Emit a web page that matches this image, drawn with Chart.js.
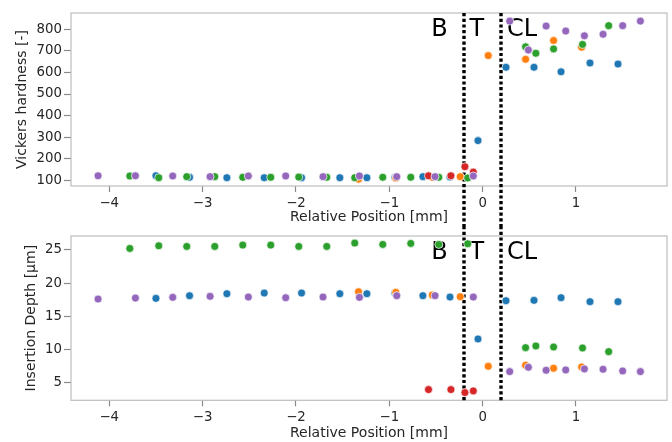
<!DOCTYPE html>
<html>
<head>
<meta charset="utf-8">
<script src="https://cdn.jsdelivr.net/npm/chart.js@4"></script>
<style>
html,body{margin:0;padding:0;background:#fff;}
#wrap{position:relative;width:672px;height:442px;overflow:hidden;}
#c1{position:absolute;left:0;top:0;}
#c2{position:absolute;left:0;top:226px;}
</style>
</head>
<body>
<div id="wrap">
<canvas id="c1" width="672" height="226"></canvas>
<canvas id="c2" width="672" height="216"></canvas>
</div>
<script>
// ---- data ----
const xTicks = [-4, -3, -2, -1, 0, 1];
const hardnessTicks = [100, 200, 300, 400, 500, 600, 700, 800];
const depthTicks = [5, 10, 15, 20, 25];
const regionLines = [-0.2, 0.2];
const regionLabels = ['B', 'T', 'CL'];
const regionLabelX = [-0.55, -0.14, 0.26];

const blueX = [-3.50,-3.14,-2.74,-2.34,-1.94,-1.53,-1.24,-0.94,-0.64,-0.35,-0.05,0.25,0.55,0.84,1.15,1.45];
const blueHardness = [121,114,112,112,112,112,112,113,117,115,284,624,624,603,644,639];
const blueDepth = [17.7,18.1,18.4,18.5,18.5,18.4,18.4,18.5,18.1,17.9,11.6,17.35,17.4,17.8,17.2,17.2];

const orangeX = [-1.33,-0.93,-0.54,-0.24,0.06,0.46,0.76,1.06];
const orangeHardness = [105,111,114,117,678,661,748,717];
const orangeDepth = [18.7,18.6,18.2,17.95,7.5,7.65,7.2,7.4];

const greenX = [-3.78,-3.47,-3.17,-2.87,-2.57,-2.27,-1.97,-1.67,-1.37,-1.07,-0.77,-0.47,-0.16,0.46,0.57,0.76,1.07,1.35];
const greenHardness = [120,112,117,117,114,114,115,114,112,114,114,114,111,719,689,709,730,817];
const greenDepth = [25.2,25.6,25.5,25.5,25.7,25.7,25.5,25.5,26.0,25.8,25.95,25.8,25.9,10.3,10.55,10.4,10.25,9.7];

const redX = [-0.58,-0.34,-0.19,-0.10];
const redHardness = [121,121,163,138];
const redDepth = [4.0,4.0,3.55,3.8];

const purpleX = [-4.12,-3.72,-3.32,-2.92,-2.51,-2.11,-1.71,-1.32,-0.92,-0.51,-0.10,0.29,0.49,0.68,0.89,1.09,1.29,1.50,1.69];
const purpleHardness = [121,121,120,117,120,120,117,120,117,117,120,838,704,815,792,770,777,817,838];
const purpleDepth = [17.6,17.75,17.85,18.0,17.9,17.8,17.9,17.85,18.1,18.1,17.9,6.7,7.35,6.9,6.95,7.1,7.05,6.8,6.7];

// ---- build ----
const COLORS = {blue:'#1f77b4', orange:'#ff7f0e', green:'#2ca02c', red:'#d62728', purple:'#9467bd'};
const FONT = "'DejaVu Sans', sans-serif";
const pts = (xs, ys) => xs.map((x, i) => ({x: x, y: ys[i]}));

function datasets(kind) {
  const src = kind === 'h'
    ? {blue:blueHardness, orange:orangeHardness, green:greenHardness, red:redHardness, purple:purpleHardness}
    : {blue:blueDepth, orange:orangeDepth, green:greenDepth, red:redDepth, purple:purpleDepth};
  const xs = {blue:blueX, orange:orangeX, green:greenX, red:redX, purple:purpleX};
  // first dataset is drawn on top in Chart.js -> purple first
  return ['purple','red','green','orange','blue'].map(k => ({
    label: k,
    data: pts(xs[k], src[k]),
    backgroundColor: COLORS[k],
    borderColor: '#ffffff',
    borderWidth: 0.7,
    pointRadius: 4,
    pointHoverRadius: 4
  }));
}

const overlay = {
  id: 'overlay',
  beforeDatasetsDraw(chart, args, opts) {
    const ctx = chart.ctx, a = chart.chartArea, xs = chart.scales.x;
    ctx.save();
    // frame (all four spines)
    ctx.strokeStyle = '#bdbdbd';
    ctx.lineWidth = 1.2;
    ctx.strokeRect(a.left, a.top, a.right - a.left, a.bottom - a.top);
    // dotted region lines
    ctx.strokeStyle = '#000';
    ctx.lineWidth = 3.4;
    ctx.setLineDash([3.2, 2.5]);
    const y0 = opts.extendUp ? 0 : a.top;
    const y1 = opts.extendDown ? chart.height : a.bottom;
    regionLines.forEach(v => {
      const px = Math.round(xs.getPixelForValue(v));
      ctx.beginPath();
      ctx.moveTo(px, y0);
      ctx.lineTo(px, y1);
      ctx.stroke();
    });
    ctx.setLineDash([]);
    // region labels
    ctx.fillStyle = '#000';
    ctx.font = "24px " + FONT;
    ctx.textAlign = 'left';
    ctx.textBaseline = 'alphabetic';
    regionLabels.forEach((t, i) => {
      ctx.fillText(t, xs.getPixelForValue(regionLabelX[i]), a.top + 23);
    });
    ctx.restore();
  }
};

const minusFmt = v => String(v).replace('-', '\u2212');

function makeChart(id, kind) {
  const isTop = kind === 'h';
  const canvasH = isTop ? 226 : 216;
  const areaBottom = isTop ? 186 : 174.3;
  return new Chart(document.getElementById(id), {
    type: 'scatter',
    data: {datasets: datasets(kind)},
    options: {
      responsive: false,
      animation: false,
      devicePixelRatio: 1,
      layout: {padding: {top: isTop ? 13 : 4, right: 5, left: 0, bottom: 0}},
      plugins: {
        legend: {display: false},
        tooltip: {enabled: false},
        overlay: {extendUp: !isTop, extendDown: isTop}
      },
      scales: {
        x: {
          type: 'linear',
          min: -4.41, max: 1.975,
          afterBuildTicks: s => { s.ticks = xTicks.map(v => ({value: v})); },
          afterFit: s => { s.height = canvasH - areaBottom; },
          grid: {drawOnChartArea: false, drawTicks: true, tickLength: 6, tickColor: '#8a8a8a', tickWidth: 1.2},
          border: {display: false},
          ticks: {font: {family: FONT, size: 13.3}, color: '#262626', padding: 3.5, callback: v => minusFmt(v), maxRotation: 0},
          title: {display: true, text: 'Relative Position [mm]', font: {family: FONT, size: 14}, color: '#262626', padding: {top: 0, bottom: isTop ? 0 : 0.6}}
        },
        y: {
          type: 'linear',
          min: isTop ? 73.6 : 2.39,
          max: isTop ? 875.6 : 27.07,
          afterBuildTicks: s => { s.ticks = (isTop ? hardnessTicks : depthTicks).map(v => ({value: v})); },
          afterFit: s => { s.width = 71; },
          grid: {drawOnChartArea: false, drawTicks: true, tickLength: 7, tickColor: '#8a8a8a', tickWidth: 1.2},
          border: {display: false},
          ticks: {font: {family: FONT, size: 13.3}, color: '#262626', padding: 2, callback: v => minusFmt(v)},
          title: {display: true, text: isTop ? 'Vickers hardness [-]' : 'Insertion Depth [\u03bcm]', font: {family: FONT, size: 14}, color: '#262626', padding: {top: isTop ? 14 : 23, bottom: 0}}
        }
      }
    },
    plugins: [overlay]
  });
}

makeChart('c1', 'h');
makeChart('c2', 'd');
</script>
</body>
</html>
